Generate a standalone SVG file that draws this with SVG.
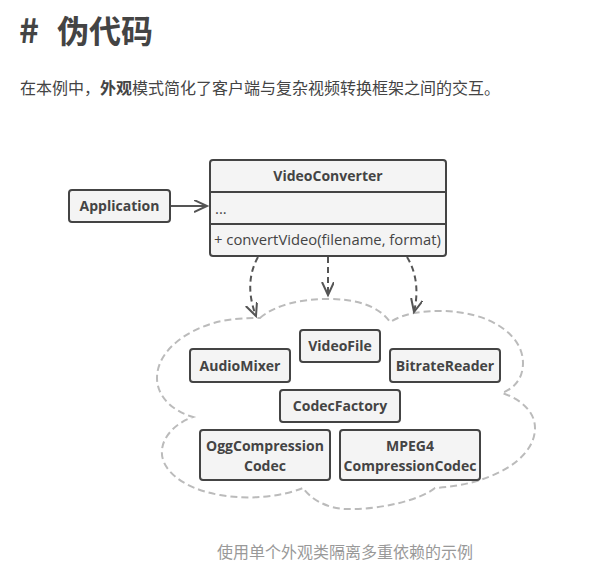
<svg xmlns="http://www.w3.org/2000/svg" width="614" height="573" viewBox="0 0 614 573">
<style>
.box{fill:#f4f4f4;stroke:#444;stroke-width:2}
.lbl{font-family:"Open Sans","Liberation Sans",sans-serif;font-size:14px;font-weight:700;fill:#444;text-anchor:middle}
.txt{font-family:"Open Sans","Liberation Sans",sans-serif;font-size:14.8px;fill:#444}
.cjk{font-family:"Noto Sans CJK SC","Noto Sans",sans-serif}
.dep{fill:none;stroke:#555;stroke-width:2;stroke-dasharray:6 4}
</style>
<defs>
<marker id="ah" markerUnits="userSpaceOnUse" markerWidth="16" markerHeight="16" refX="13" refY="6" orient="auto">
<path d="M0,0 L13,6 L0,12" fill="none" stroke="#555" stroke-width="2" stroke-dasharray="none"/>
</marker>
</defs>
<rect width="614" height="573" fill="#fff"/>
<text x="19" y="43" class="cjk" font-size="34" font-weight="700" fill="#444">#</text>
<text x="57" y="43" class="cjk" font-size="32" font-weight="700" fill="#444">伪代码</text>
<text x="20" y="94" class="cjk" font-size="16" fill="#444">在本例中，<tspan font-weight="700">外观</tspan>模式简化了客户端与复杂视频转换框架之间的交互。</text>
<text x="345" y="558" class="cjk" font-size="16" fill="#999" text-anchor="middle">使用单个外观类隔离多重依赖的示例</text>
<g id="cloud">
<path d="M260,318 C275,305 300,299 328,299 C355,299 378,305 390,322 C405,313 422,311 440,311 C490,311 523,335 523,363 C523,378 515,388 502,393 C518,398 535,410 535,428 C535,460 490,485 435,488 C420,500 380,510 345,509 C325,508 310,498 303,488 C280,497 250,500 220,495 C180,488 160,468 162,450 C163,435 178,422 193,417 C170,410 157,395 157,378 C157,345 200,322 235,319 C245,318 255,318 260,318 Z" fill="none" stroke="#bbb" stroke-width="2" stroke-dasharray="7 4"/>
</g>
<g id="connectors">
<path d="M170,206 L207,206" fill="none" stroke="#555" stroke-width="2" marker-end="url(#ah)"/>
<path class="dep" d="M258,257 C248,275 248,295 256,316" marker-end="url(#ah)"/>
<path class="dep" d="M328,257 L328,295" marker-end="url(#ah)"/>
<path class="dep" d="M407,257 C418,275 418,295 414,312" marker-end="url(#ah)"/>
</g>
<g id="VideoConverter">
<rect class="box" x="210" y="160" width="236" height="96" rx="3"/>
<line x1="210" y1="192" x2="446" y2="192" stroke="#444" stroke-width="2"/>
<line x1="210" y1="224" x2="446" y2="224" stroke="#444" stroke-width="2"/>
<text class="lbl" x="328" y="181">VideoConverter</text>
<text class="txt" x="215" y="214">...</text>
<text class="txt" x="214" y="245">+ convertVideo(filename, format)</text>
</g>
<g id="Application">
<rect class="box" x="69" y="190" width="101" height="32" rx="3"/>
<text class="lbl" x="119.5" y="211">Application</text>
</g>
<g id="AudioMixer">
<rect class="box" x="190" y="349" width="100" height="33" rx="3"/>
<text class="lbl" x="240" y="370.5">AudioMixer</text>
</g>
<g id="VideoFile">
<rect class="box" x="300" y="330" width="80" height="32" rx="3"/>
<text class="lbl" x="340" y="351">VideoFile</text>
</g>
<g id="BitrateReader">
<rect class="box" x="390" y="349" width="110" height="33" rx="3"/>
<text class="lbl" x="445" y="370.5">BitrateReader</text>
</g>
<g id="CodecFactory">
<rect class="box" x="280" y="390" width="120" height="32" rx="3"/>
<text class="lbl" x="340" y="411">CodecFactory</text>
</g>
<g id="OggCompressionCodec">
<rect class="box" x="200" y="430" width="130" height="50" rx="3"/>
<text class="lbl" x="265" y="451">OggCompression</text>
<text class="lbl" x="265" y="471">Codec</text>
</g>
<g id="MPEG4CompressionCodec">
<rect class="box" x="340" y="430" width="140" height="50" rx="3"/>
<text class="lbl" x="410" y="451">MPEG4</text>
<text class="lbl" x="410" y="471">CompressionCodec</text>
</g>
</svg>
